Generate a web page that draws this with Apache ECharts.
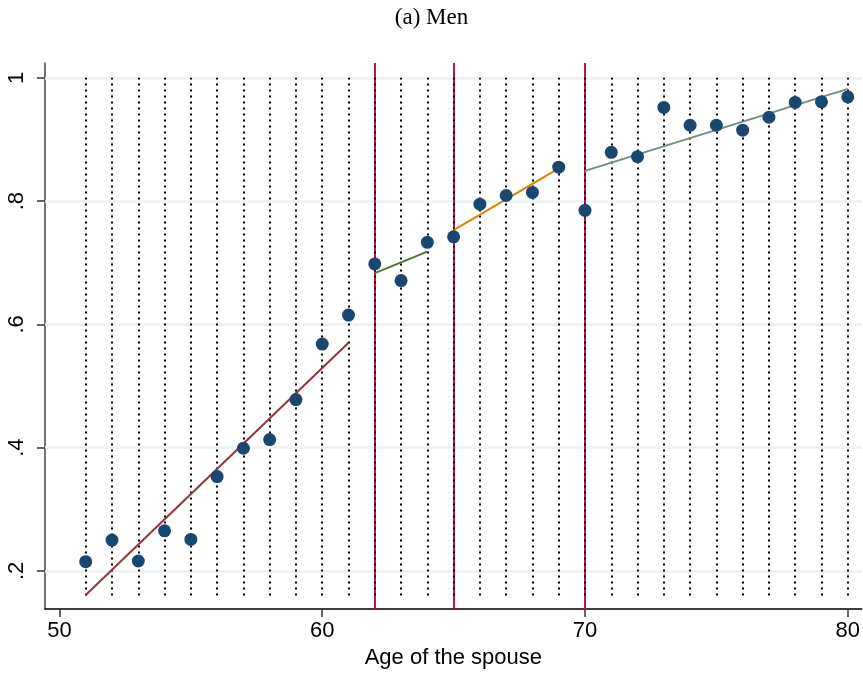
<!DOCTYPE html>
<html>
<head>
<meta charset="utf-8">
<script src="https://cdn.jsdelivr.net/npm/echarts@6/dist/echarts.min.js"></script>
<style>
html,body{margin:0;padding:0;background:#fff;}
#chart{width:863px;height:674px;}
</style>
</head>
<body>
<div id="chart"></div>
<script>
// ---- data ----
const ages = [51,52,53,54,55,56,57,58,59,60,61,62,63,64,65,66,67,68,69,70,71,72,73,74,75,76,77,78,79,80];
const shares = [0.215,0.250,0.216,0.265,0.251,0.353,0.399,0.413,0.478,0.568,0.615,0.698,0.671,0.733,0.742,0.795,0.809,0.814,0.855,0.785,0.879,0.872,0.952,0.923,0.923,0.915,0.936,0.960,0.961,0.969];

const fit1X = [51, 61];  const fit1Y = [0.161, 0.570];
const fit2X = [62, 64];  const fit2Y = [0.683, 0.718];
const fit3X = [65, 69];  const fit3Y = [0.753, 0.853];
const fit4X = [70, 80];  const fit4Y = [0.849, 0.982];

const cutoffs = [62, 65, 70];
const dotLineFrom = 0.16;
const dotLineTo = 1.0;

const xTicks = [50, 60, 70, 80];
const yTicks = [0.2, 0.4, 0.6, 0.8, 1];
const yTickLabels = ['.2', '.4', '.6', '.8', '1'];

const title = '(a) Men';
const xName = 'Age of the spouse';

// ---- build chart ----
const pair = (xs, ys) => xs.map((x, i) => [x, ys[i]]);
const font = 'Liberation Sans, Arial, Helvetica, sans-serif';

const chart = echarts.init(document.getElementById('chart'), null, {renderer: 'canvas'});

const fitColors = ['#90353b', '#55752f', '#e37e00', '#6e8e84'];
const fits = [pair(fit1X, fit1Y), pair(fit2X, fit2Y), pair(fit3X, fit3Y), pair(fit4X, fit4Y)];

const option = {
  animation: false,
  backgroundColor: '#fff',
  title: {
    text: title,
    left: 'center',
    top: 1,
    textStyle: {fontFamily: 'Liberation Serif, Times New Roman, serif', fontSize: 23, fontWeight: 'normal', color: '#000'}
  },
  grid: {left: 45, right: 0, top: 63, bottom: 64, containLabel: false},
  xAxis: {
    type: 'value',
    min: 49.45,
    max: 80.53,
    name: xName,
    nameLocation: 'middle',
    nameGap: 36,
    nameTextStyle: {fontFamily: font, fontSize: 22, color: '#000'},
    axisLine: {show: true, lineStyle: {color: '#000', width: 1.5}},
    axisTick: {show: true, length: 8, lineStyle: {color: '#333', width: 1.5}, customValues: xTicks},
    axisLabel: {show: true, margin: 11, fontFamily: font, fontSize: 22, color: '#000', customValues: xTicks},
    splitLine: {show: false}
  },
  yAxis: {
    type: 'value',
    min: 0.138,
    max: 1.024,
    axisLine: {show: true, lineStyle: {color: '#444', width: 1.5}},
    axisTick: {show: true, length: 8, lineStyle: {color: '#333', width: 1.5}, customValues: yTicks},
    axisLabel: {
      show: true, rotate: 90, margin: 17, fontFamily: font, fontSize: 22, color: '#000',
      customValues: yTicks,
      formatter: function (v) {
        let best = 0;
        for (let i = 0; i < yTicks.length; i++) if (Math.abs(yTicks[i] - v) < Math.abs(yTicks[best] - v)) best = i;
        return yTickLabels[best];
      }
    },
    splitLine: {show: false}
  },
  series: [
    {
      type: 'line', data: [], z: 1, silent: true,
      markLine: {
        silent: true, symbol: 'none', z: 1, animation: false,
        label: {show: false},
        lineStyle: {color: '#eaf2f3', width: 2.5, type: 'solid'},
        data: yTicks.map(v => ({yAxis: v}))
      }
    },
    {
      type: 'line', data: [], z: 2, silent: true,
      markLine: {
        silent: true, symbol: 'none', z: 2, animation: false,
        label: {show: false},
        lineStyle: {color: '#cc1148', width: 2, type: 'solid'},
        data: cutoffs.map(v => ({xAxis: v}))
      }
    },
    {
      type: 'line', data: [], z: 3, silent: true,
      markLine: {
        silent: true, symbol: 'none', z: 3, animation: false,
        label: {show: false},
        lineStyle: {color: '#000', width: 2, type: [2, 4], cap: 'butt'},
        data: ages.map(a => [{coord: [a, dotLineFrom]}, {coord: [a, dotLineTo]}])
      }
    },
    ...fits.map((d, i) => ({
      type: 'line', data: d, z: 5, showSymbol: false, symbol: 'none', silent: true,
      lineStyle: {color: fitColors[i], width: 2}
    })),
    {
      type: 'scatter', z: 10,
      data: pair(ages, shares),
      symbol: 'circle', symbolSize: 13,
      itemStyle: {color: '#1a476f', opacity: 1}
    }
  ]
};
chart.setOption(option);
</script>
</body>
</html>
